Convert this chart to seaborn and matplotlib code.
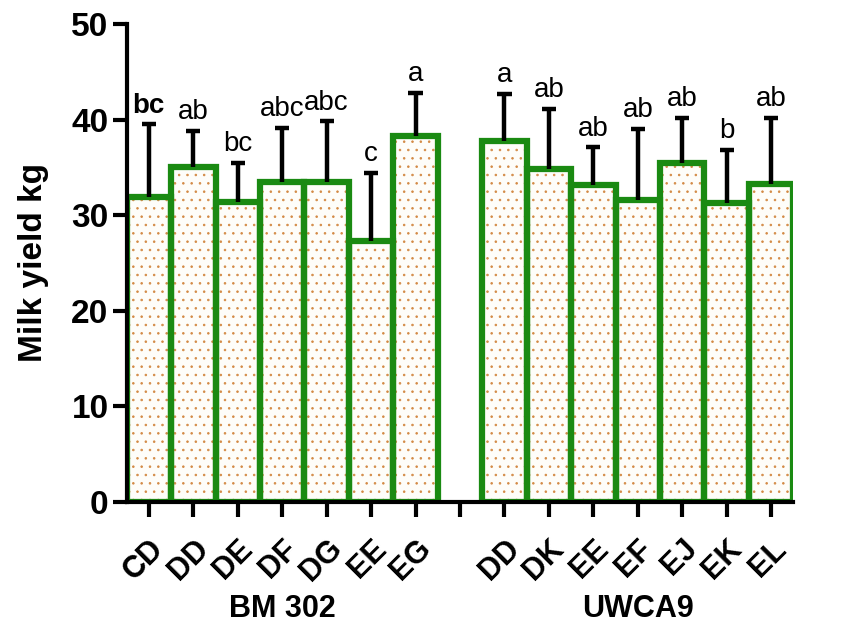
import numpy as np
import pandas as pd
import matplotlib
matplotlib.use("Agg")
import matplotlib.pyplot as plt
import seaborn as sns

# data
bm302_labels = ["CD", "DD", "DE", "DF", "DG", "EE", "EG"]
bm302_means = [31.9, 35.0, 31.4, 33.5, 33.5, 27.3, 38.3]
bm302_tops = [39.5, 38.8, 35.5, 39.1, 39.8, 34.4, 42.8]
bm302_letters = ["bc", "ab", "bc", "abc", "abc", "c", "a"]

uwca9_labels = ["DD", "DK", "EE", "EF", "EJ", "EK", "EL"]
uwca9_means = [37.8, 34.8, 33.2, 31.6, 35.5, 31.3, 33.3]
uwca9_tops = [42.7, 41.1, 37.1, 39.0, 40.2, 36.8, 40.2]
uwca9_letters = ["a", "ab", "ab", "ab", "ab", "b", "ab"]

groups = ["BM 302", "UWCA9"]

df = pd.concat([
    pd.DataFrame({"group": groups[0], "genotype": bm302_labels,
                  "mean": bm302_means, "top": bm302_tops, "letter": bm302_letters}),
    pd.DataFrame({"group": groups[1], "genotype": uwca9_labels,
                  "mean": uwca9_means, "top": uwca9_tops, "letter": uwca9_letters}),
], ignore_index=True)
df["key"] = df["group"] + "-" + df["genotype"]
order = list(df["key"][:7]) + ["gap"] + list(df["key"][7:])
df["pos"] = [order.index(k) for k in df["key"]]

sns.set_style("ticks")
plt.rcParams["font.family"] = ["Liberation Sans", "DejaVu Sans"]
plt.rcParams["text.color"] = "black"
plt.rcParams["axes.labelcolor"] = "black"
plt.rcParams["xtick.color"] = "black"
plt.rcParams["ytick.color"] = "black"
plt.rcParams["axes.edgecolor"] = "black"
plt.rcParams["hatch.linewidth"] = 0.6

fig = plt.figure(figsize=(8.44, 6.32), dpi=100)
ax = fig.add_axes([0.150, 0.206, 0.790, 0.756])

# dotted fill
sns.barplot(data=df, x="key", y="mean", order=order, color="#fffdf8", width=1.0,
            edgecolor="#d38a45", linewidth=0, hatch="..", errorbar=None, ax=ax)
# green outline
sns.barplot(data=df, x="key", y="mean", order=order, fill=False, width=1.0,
            edgecolor="#1a8a12", linewidth=4.5, errorbar=None, ax=ax)

# upward error bars
ax.vlines(df["pos"], df["mean"], df["top"], color="black", lw=3.2, zorder=3)
ax.hlines(df["top"], df["pos"] - 0.16, df["pos"] + 0.16, color="black", lw=3.2, zorder=3)

for _, r in df.iterrows():
    ax.text(r["pos"], r["top"] + 0.6, r["letter"], ha="center", va="bottom",
            fontsize=20, fontweight="bold" if r["key"] == "BM 302-CD" else "normal")

ax.set_xlim(-0.5, 14.5)
ax.set_ylim(0, 50)
ax.set_yticks([0, 10, 20, 30, 40, 50])
ax.set_yticklabels([0, 10, 20, 30, 40, 50], fontsize=24, fontweight="bold")
ax.set_xticks(range(len(order)))
ax.set_xticklabels([k.split("-")[1] if k != "gap" else "" for k in order],
                   rotation=45, ha="right", rotation_mode="anchor",
                   fontsize=22, fontweight="bold")
ax.tick_params(axis="x", length=11, width=3, pad=12)
ax.tick_params(axis="y", length=10, width=3, pad=3)
ax.set_xlabel("")
ax.set_ylabel("Milk yield kg", fontsize=24, fontweight="bold", labelpad=16)
for s in ["left", "bottom"]:
    ax.spines[s].set_linewidth(3)
sns.despine(ax=ax)

ax.text(3, -0.225, groups[0], transform=ax.get_xaxis_transform(), ha="center",
        va="center", fontsize=22, fontweight="bold")
ax.text(11, -0.225, groups[1], transform=ax.get_xaxis_transform(), ha="center",
        va="center", fontsize=22, fontweight="bold")

fig.savefig("out.png", dpi=100)
